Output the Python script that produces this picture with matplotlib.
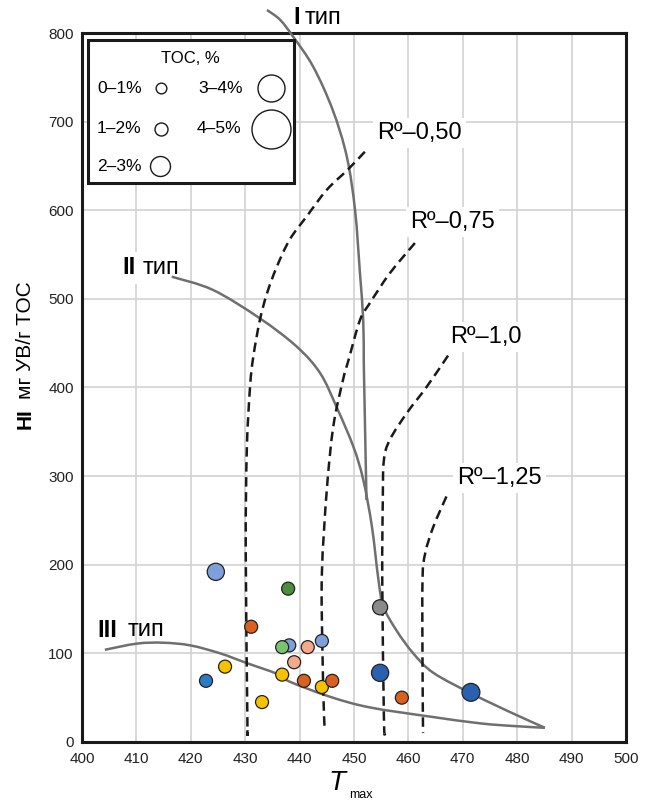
import matplotlib
matplotlib.use("Agg")
import matplotlib.pyplot as plt
from matplotlib.patches import Rectangle, PathPatch
from matplotlib.path import Path
import numpy as np

plt.rcParams['font.family'] = ['Liberation Sans', 'DejaVu Sans']

# samples: Tmax, HI, TOC (%), colour
tmax = [424.6, 437.9, 431.1, 438.1, 436.8, 441.5, 444.1, 439.0, 426.3, 422.8,
        436.8, 440.8, 444.1, 446.0, 433.1, 454.8, 454.8, 458.8, 471.5]
hi = [192, 173, 130, 109, 107, 107, 114, 90, 85, 69,
      76, 69, 62, 69, 45, 152, 78, 50, 56]
toc = [2.1, 1.5, 1.5, 1.5, 1.5, 1.5, 1.5, 1.5, 1.5, 1.5,
       1.5, 1.5, 1.5, 1.5, 1.5, 1.8, 2.1, 1.5, 2.2]
colors = ['#7e9fd9', '#4b8f3d', '#d9601f', '#7e9fd9', '#7bc46e', '#f5a98b', '#7e9fd9',
          '#f5a98b', '#f5c200', '#2b7cc6', '#f5c200', '#d9601f', '#f5c200', '#d9601f',
          '#f5c200', '#8a8a8a', '#2a60b0', '#d9601f', '#2a60b0']

# kerogen type curves
type1_x = [434.0, 436.4, 438.8, 442.5, 446.1, 448.7, 450.2, 451.1, 451.7, 451.8, 451.9, 452.3]
type1_y = [826, 815, 796, 762, 713, 660, 600, 529, 476, 431, 397, 273]
type2_x = [416.5, 424.1, 432.7, 439.5, 443.8, 446.8, 449.9, 451.7, 453.3, 454.5, 455.4,
           457.8, 460.9, 464.6, 471.8, 479.3, 485.1]
type2_y = [525, 510, 478, 446, 416, 378, 333, 296, 243, 183, 153, 126, 100, 78, 54, 32, 16]
type3_x = [404.2, 410.1, 414.9, 419.9, 425.4, 430.3, 435.8, 438.2, 445.6, 452.9,
           464.0, 473.2, 479.3, 485.1]
type3_y = [104, 111, 112, 109, 100, 89, 77, 68, 51, 39, 28.6, 21, 18, 16]

# vitrinite reflectance isolines
r050_x = [452.0, 448.9, 445.0, 441.3, 438.2, 435.8, 434.0, 432.7, 431.5, 430.9, 430.3, 430.1, 430.4, 430.4]
r050_y = [666, 646, 623, 593, 567, 536, 506, 476, 435, 401, 330, 217, 29, 16]
r075_x = [461.2, 456.6, 452.9, 451.1, 449.0, 448.0, 446.2, 445.0, 444.1, 444.2, 444.5, 444.7]
r075_y = [563, 529, 495, 476, 431, 409, 356, 284, 190, 104, 29, 14]
r100_x = [467.3, 463.4, 459.7, 456.6, 455.5, 455.3, 455.2, 455.5, 455.7]
r100_y = [436, 401, 371, 341, 318, 273, 183, 29, 8]
r125_x = [467.0, 464.6, 463.1, 462.6, 462.6, 462.7]
r125_y = [277, 243, 213, 183, 89, 10]

legend_toc = [0.5, 1.5, 2.5, 3.5, 4.5]
legend_labels = ['0–1%', '1–2%', '2–3%', '3–4%', '4–5%']


def toc_size(v):
    diam_px = np.interp(v, legend_toc, [10.7, 13, 20, 27, 39])
    return (diam_px * 0.72) ** 2


def smooth_path(xs, ys):
    # catmull-rom through the traced points, drawn as cubic bezier segments
    p = np.column_stack([xs, ys]).astype(float)
    pts = np.vstack([p[0], p, p[-1]])
    verts = [p[0]]
    codes = [Path.MOVETO]
    for i in range(1, len(pts) - 2):
        c1 = pts[i] + (pts[i + 1] - pts[i - 1]) / 6
        c2 = pts[i + 1] - (pts[i + 2] - pts[i]) / 6
        verts += [c1, c2, pts[i + 1]]
        codes += [Path.CURVE4] * 3
    return Path(verts, codes)


fig = plt.figure(figsize=(6.58, 8.01), dpi=100)
ax = fig.add_axes([0.1246, 0.0737, 0.8267, 0.8851])

ax.set_xlim(400, 500)
ax.set_ylim(0, 800)
ax.set_xticks(np.arange(400, 501, 10))
ax.set_yticks(np.arange(0, 801, 100))
ax.grid(True, color='#d2d2d2', lw=1.2)
ax.set_axisbelow(True)
ax.tick_params(length=0, labelsize=11, colors='#222222')
ax.tick_params(axis='x', pad=7)
ax.tick_params(axis='y', pad=6)
for s in ax.spines.values():
    s.set_linewidth(2.2)
    s.set_color('#1a1a1a')

grey = '#6f6f6f'
for xs, ys, clip in [(type1_x, type1_y, False), (type2_x, type2_y, True), (type3_x, type3_y, True)]:
    ax.add_patch(PathPatch(smooth_path(xs, ys), fill=False, edgecolor=grey, lw=1.8,
                           clip_on=clip, zorder=3))

for xs, ys in [(r050_x, r050_y), (r075_x, r075_y), (r100_x, r100_y), (r125_x, r125_y)]:
    ax.add_patch(PathPatch(smooth_path(xs, ys), fill=False, edgecolor='#1a1a1a', lw=1.8,
                           linestyle=(0, (3.8, 2.2)), zorder=3))

ax.scatter(tmax, hi, s=[toc_size(v) for v in toc], c=colors,
           edgecolors='#222222', linewidths=0.9, zorder=5)

box = dict(facecolor='white', edgecolor='none', pad=3)
ax.text(454.2, 687, 'Rº–0,50', fontsize=17, va='center', bbox=box, zorder=4)
ax.text(460.3, 587, 'Rº–0,75', fontsize=17, va='center', bbox=box, zorder=4)
ax.text(467.6, 457, 'Rº–1,0', fontsize=17, va='center', bbox=box, zorder=4)
ax.text(468.9, 298, 'Rº–1,25', fontsize=17, va='center', bbox=box, zorder=4)

ax.text(438.9, 817, 'I', fontsize=17, fontweight='bold', va='center', clip_on=False)
ax.text(441.0, 817, 'тип', fontsize=17, va='center', clip_on=False)
ax.text(407.4, 535, 'II', fontsize=17, fontweight='bold', va='center', bbox=box, zorder=4)
ax.text(411.2, 535, 'тип', fontsize=17, va='center', zorder=4)
ax.text(402.9, 126, 'III', fontsize=17, fontweight='bold', va='center', zorder=4)
ax.text(408.4, 126, 'тип', fontsize=17, va='center', zorder=4)

# TOC legend box
ax.add_patch(Rectangle((0.011, 0.7884), 0.3787, 0.2016, transform=ax.transAxes,
                       facecolor='white', edgecolor='#1a1a1a', lw=2.2, zorder=6))
ax.text(0.1985, 0.9647, 'TOC, %', fontsize=12, ha='center', va='center',
        transform=ax.transAxes, zorder=7)
leg_tx = [0.0276, 0.0276, 0.0276, 0.2132, 0.211]
leg_cx = [0.1455, 0.1445, 0.1443, 0.3474, 0.3474]
leg_y = [0.9224, 0.8646, 0.8124, 0.9224, 0.8646]
for lab, v, tx, cx, cy in zip(legend_labels, legend_toc, leg_tx, leg_cx, leg_y):
    ax.text(tx, cy, lab, fontsize=12.5, va='center', transform=ax.transAxes, zorder=7)
    ax.scatter([cx], [cy], s=toc_size(v), facecolors='white', edgecolors='#1a1a1a',
               linewidths=1.0, transform=ax.transAxes, zorder=7, clip_on=False)

# axis titles
fig.text(0.038, 0.477, 'HI', fontsize=15, fontweight='bold', rotation=90,
         ha='center', va='center')
fig.text(0.038, 0.502, 'мг УВ/г TOC', fontsize=15, rotation=90, ha='center', va='bottom')
fig.text(0.512, 0.022, 'T', fontsize=20, fontstyle='italic', ha='center', va='center')
fig.text(0.549, 0.008, 'max', fontsize=9, ha='center', va='center')

fig.savefig('out.png', dpi=100)
